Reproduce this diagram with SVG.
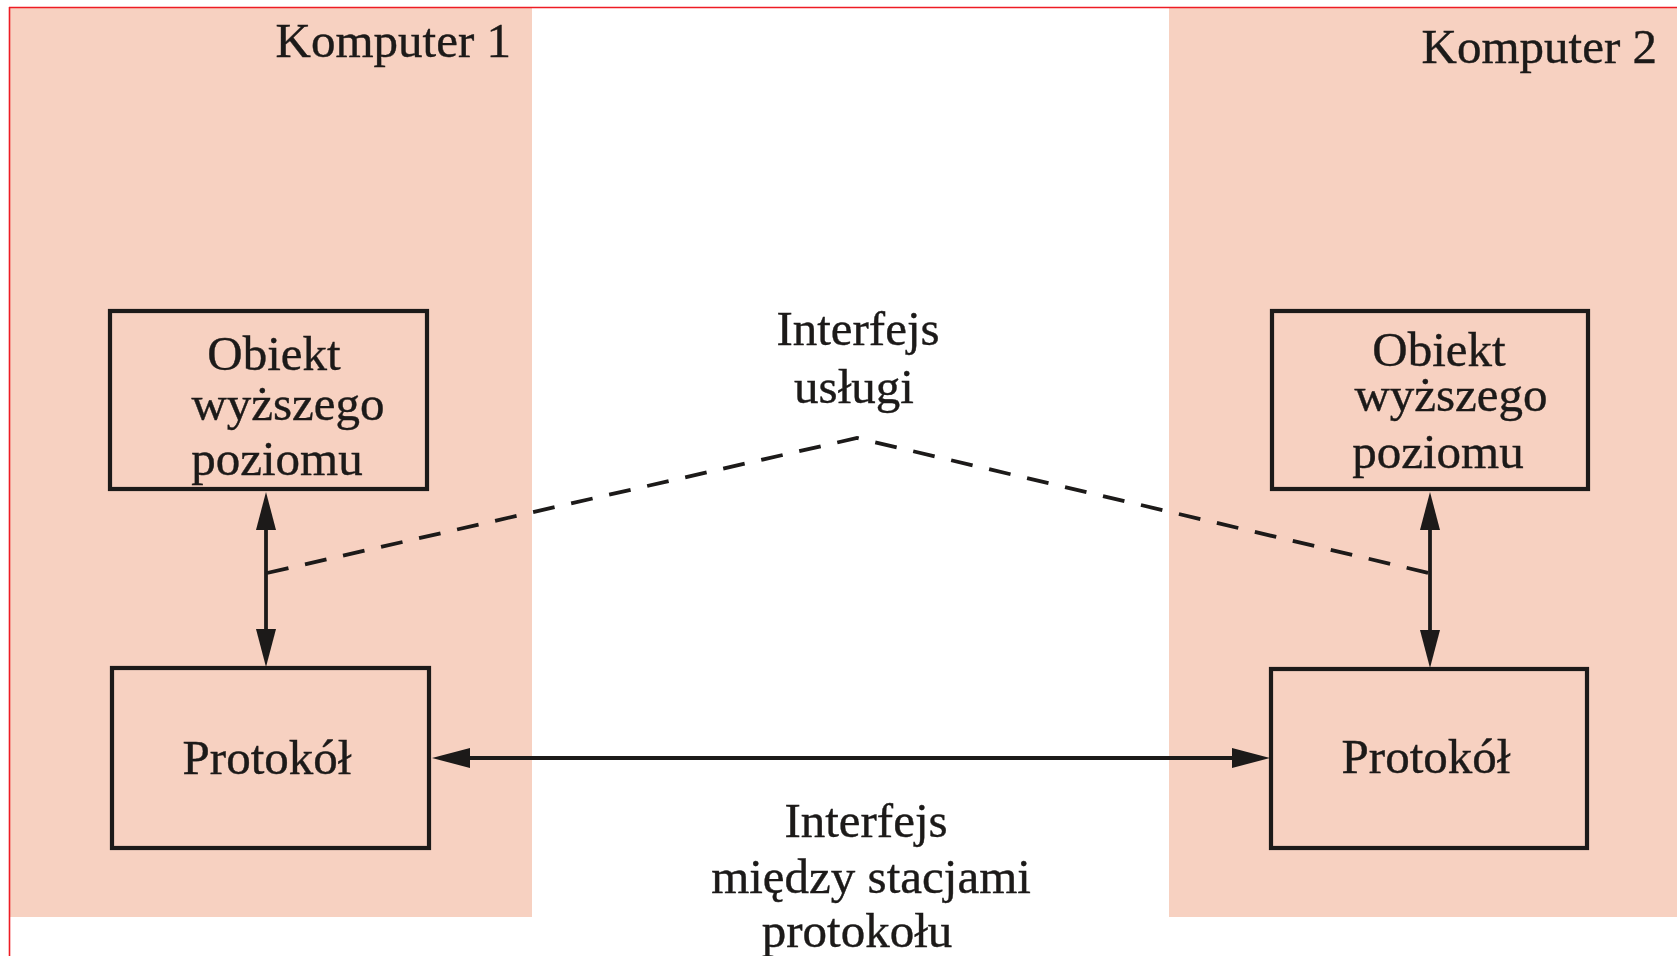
<svg xmlns="http://www.w3.org/2000/svg" width="1677" height="956" viewBox="0 0 1677 956">
  <style>
    .bg { fill: #F7D1C1; }
    .box { fill: none; stroke: #1c1a19; stroke-width: 4.2; }
    .lbl { font-family: "Liberation Serif", "Times New Roman", serif; font-size: 49px; fill: #1c1a19; stroke: #1c1a19; stroke-width: 0.4; text-anchor: middle; }
    .lblr { font-family: "Liberation Serif", "Times New Roman", serif; font-size: 49px; fill: #1c1a19; stroke: #1c1a19; stroke-width: 0.4; text-anchor: end; }
    .arr { fill: none; stroke: #1c1a19; stroke-width: 3.8; marker-start: url(#ah); marker-end: url(#ah); }
    .dash { fill: none; stroke: #1c1a19; stroke-width: 3.8; stroke-dasharray: 22 17; }
    .frame { stroke: #ee1c24; stroke-width: 1.6; }
  </style>
  <defs>
    <marker id="ah" markerUnits="userSpaceOnUse" markerWidth="38" markerHeight="22" viewBox="0 0 38 22" refX="28" refY="11" orient="auto-start-reverse">
      <path d="M0,1 L38,11 L0,21 z" fill="#1c1a19"/>
    </marker>
  </defs>
  <rect x="0" y="0" width="1677" height="956" fill="#ffffff"/>
  <g id="komputer1">
    <rect class="bg" x="9" y="8" width="523" height="909"/>
    <text class="lblr" x="511" y="57">Komputer 1</text>
  </g>
  <g id="komputer2">
    <rect class="bg" x="1169" y="8" width="508" height="909"/>
    <text class="lblr" x="1657" y="63">Komputer 2</text>
  </g>
  <g id="frame">
    <line class="frame" x1="9" y1="7.5" x2="1677" y2="7.5"/>
    <line class="frame" x1="9.5" y1="7" x2="9.5" y2="956"/>
  </g>
  <g id="obiekt1">
    <rect class="box" x="110" y="311" width="317" height="178"/>
    <text class="lbl" x="274" y="370">Obiekt</text>
    <text class="lbl" x="288" y="420">wyższego</text>
    <text class="lbl" x="277" y="475">poziomu</text>
  </g>
  <g id="protokol1">
    <rect class="box" x="112" y="668" width="317" height="180"/>
    <text class="lbl" x="267" y="774">Protokół</text>
  </g>
  <g id="obiekt2">
    <rect class="box" x="1272" y="311" width="316" height="178"/>
    <text class="lbl" x="1439" y="366">Obiekt</text>
    <text class="lbl" x="1451" y="411">wyższego</text>
    <text class="lbl" x="1438" y="468">poziomu</text>
  </g>
  <g id="protokol2">
    <rect class="box" x="1271" y="669" width="316" height="179"/>
    <text class="lbl" x="1426" y="773">Protokół</text>
  </g>
  <g id="connectors">
    <line class="arr" x1="266" y1="502" x2="266" y2="657"/>
    <line class="arr" x1="1430" y1="502" x2="1430" y2="658"/>
    <line class="arr" x1="442" y1="758" x2="1260" y2="758"/>
    <polyline class="dash" points="267,573 857,438 1429,573"/>
  </g>
  <g id="label-usluga">
    <text class="lbl" x="858" y="345">Interfejs</text>
    <text class="lbl" x="854" y="403">usługi</text>
  </g>
  <g id="label-stacje">
    <text class="lbl" x="866" y="837">Interfejs</text>
    <text class="lbl" x="871" y="893">między stacjami</text>
    <text class="lbl" x="857" y="947">protokołu</text>
  </g>
</svg>
